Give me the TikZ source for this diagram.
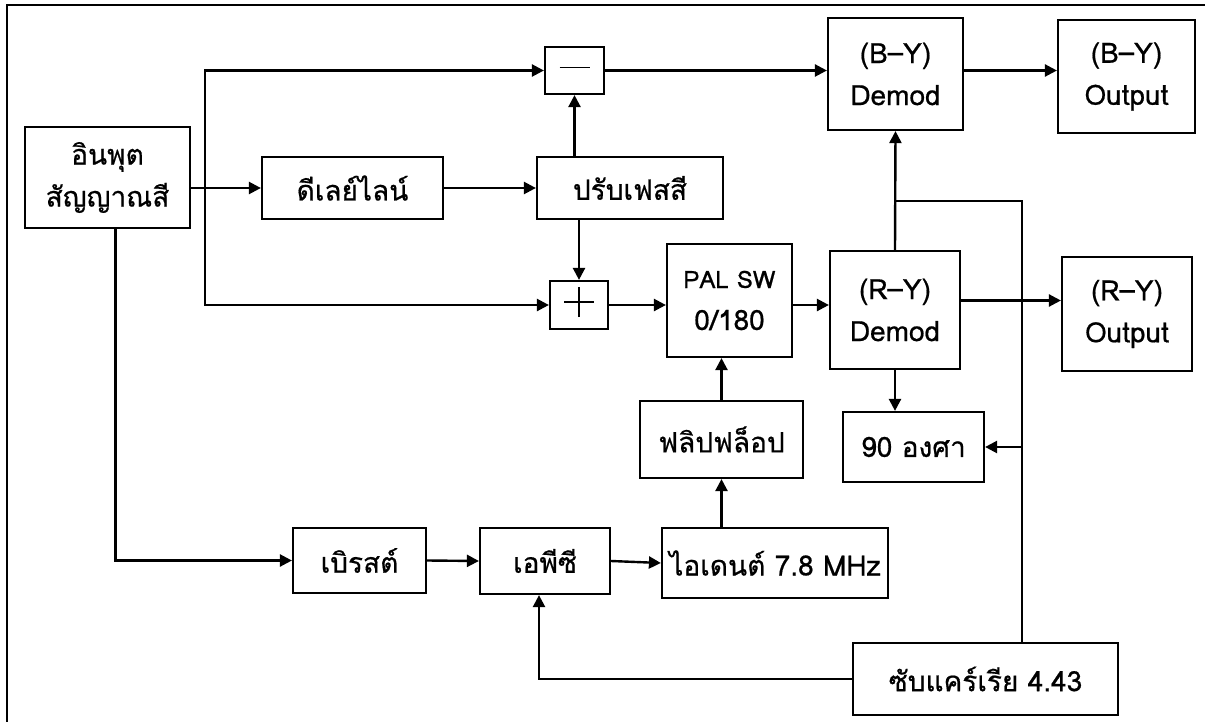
\documentclass[tikz,border=0pt]{standalone}
\usepackage{fontspec}
\setmainfont[Script=Thai,FakeBold=0.6,AutoFakeBold=0.6]{Loma}
\usetikzlibrary{arrows.meta,positioning,calc}

\tikzset{
  blk/.style={draw, line width=1.1pt, align=center, inner sep=2pt,
              font=\fontsize{14}{21}\selectfont\bfseries},
  wire/.style={line width=1.2pt},
  arr/.style={wire, -{Triangle[length=6pt,width=6pt]}},
}

\begin{document}
\begin{tikzpicture}[x=0.5pt,y=-0.5pt]

% ── Page frame (pixel grid, y downwards) ─────────────────────────────────────
\useasboundingbox (0,0) rectangle (1205,722);
\draw[line width=1.1pt] (7,722) -- (7,5) -- (1205,5);

% ════════════════════════════════════════════════════════════════════════════
% BLOCKS
% ════════════════════════════════════════════════════════════════════════════
\node[blk, minimum width=82.5pt, minimum height=50.5pt] (in)    at (107.5,177.5) {อินพุต\\สัญญาณสี};
\node[blk, minimum width=90.5pt, minimum height=31pt]   (delay) at (352.5,188)   {ดีเลย์ไลน์};
\node[blk, minimum width=93pt,   minimum height=31pt]   (phase) at (630,188)     {ปรับเฟสสี};
\node[blk, minimum width=29.5pt, minimum height=23.5pt] (minus) at (574.5,70.5)  {};
\node[blk, minimum width=29pt,   minimum height=24pt]   (plus)  at (579,305)     {};
\node[blk, minimum width=62.5pt, minimum height=56.5pt] (pal)   at (729.5,300.5) {{\fontsize{12}{21}\selectfont PAL SW}\\0/180};
\node[blk, minimum width=67.5pt, minimum height=56pt]   (bydem) at (895.5,74)    {(B–Y)\\Demod};
\node[blk, minimum width=68.5pt, minimum height=56.5pt] (byout) at (1126.5,76.5) {(B–Y)\\Output};
\node[blk, minimum width=65pt,   minimum height=59pt]   (rydem) at (895,310)     {(R–Y)\\Demod};
\node[blk, minimum width=65pt,   minimum height=57pt]   (ryout) at (1127,314)    {(R–Y)\\Output};
\node[blk, minimum width=70.5pt, minimum height=35pt]   (deg)   at (913.5,447)   {90 องศา};
\node[blk, minimum width=81.5pt, minimum height=38.5pt] (flip)  at (721.5,439.5) {ฟลิปฟล็อป};
\node[blk, minimum width=113pt,  minimum height=35pt]   (ident) at (775,563)     {ไอเดนต์ 7.8 MHz};
\node[blk, minimum width=65pt,   minimum height=33pt]   (apc)   at (545,561)     {เอพีซี};
\node[blk, minimum width=66.5pt, minimum height=32.5pt] (burst) at (359.5,560.5) {เบิรสต์};
\node[blk, minimum width=132.5pt,minimum height=36pt]   (sub)   at (985.5,679)   {ซับแคร์เรีย 4.43};

% minus / plus signs
\draw[line width=0.9pt] ([xshift=-7.5pt,yshift=1.5pt]minus.center) -- ++(15pt,0);
\draw[line width=0.9pt] ([xshift=-7.5pt,yshift=1.5pt]plus.center) -- ++(15pt,0);
\draw[line width=0.9pt] ([yshift=-6pt]plus.center) -- ++(0,15pt);

% ════════════════════════════════════════════════════════════════════════════
% CONNECTORS
% ════════════════════════════════════════════════════════════════════════════
\coordinate (tap) at (205,188);   % bus split off the input line
\coordinate (sf)  at (1022,643);  % subcarrier feed
\coordinate (jb)  at (895,201);   % feed joins demod link

\draw[arr] (in.east |- delay.west) -- (delay.west);
\draw[arr] (tap) |- (minus.west);
\draw[arr] (tap) |- (plus.west);
\draw[arr] (delay.east) -- (phase.west);
\draw[arr] (minus.south |- phase.north) -- (minus.south);
\draw[arr] (plus.north |- phase.south) -- (plus.north);
\draw[arr] (minus.east) -- (minus.east -| bydem.west);
\draw[arr] (plus.east) -- (plus.east -| pal.west);
\draw[arr] (pal.east |- plus.east) -- (rydem.west |- plus.east);
\draw[arr] (bydem.east |- minus.east) -- (byout.west |- minus.east);
\draw[arr] (rydem.east |- pal.east) -- (ryout.west |- pal.east);
\draw[arr] (rydem.north) -- (bydem.south);
\draw[wire] (jb) -| (sf);
\draw[arr] (rydem.south) -- (rydem.south |- deg.north);
\draw[arr] (sf |- deg.east) -- (deg.east);
\draw[arr] (flip.north) -- (flip.north |- pal.south);
\draw[arr] (ident.north -| flip.south) -- (flip.south);
\draw[arr] ([xshift=4pt]in.south) |- (burst.west);
\draw[arr] (burst.east) -- (apc.west);
\draw[arr] (apc.east) -- (ident.west);
\draw[arr] (sub.west) -| ([xshift=-3pt]apc.south);

\end{tikzpicture}
\end{document}
